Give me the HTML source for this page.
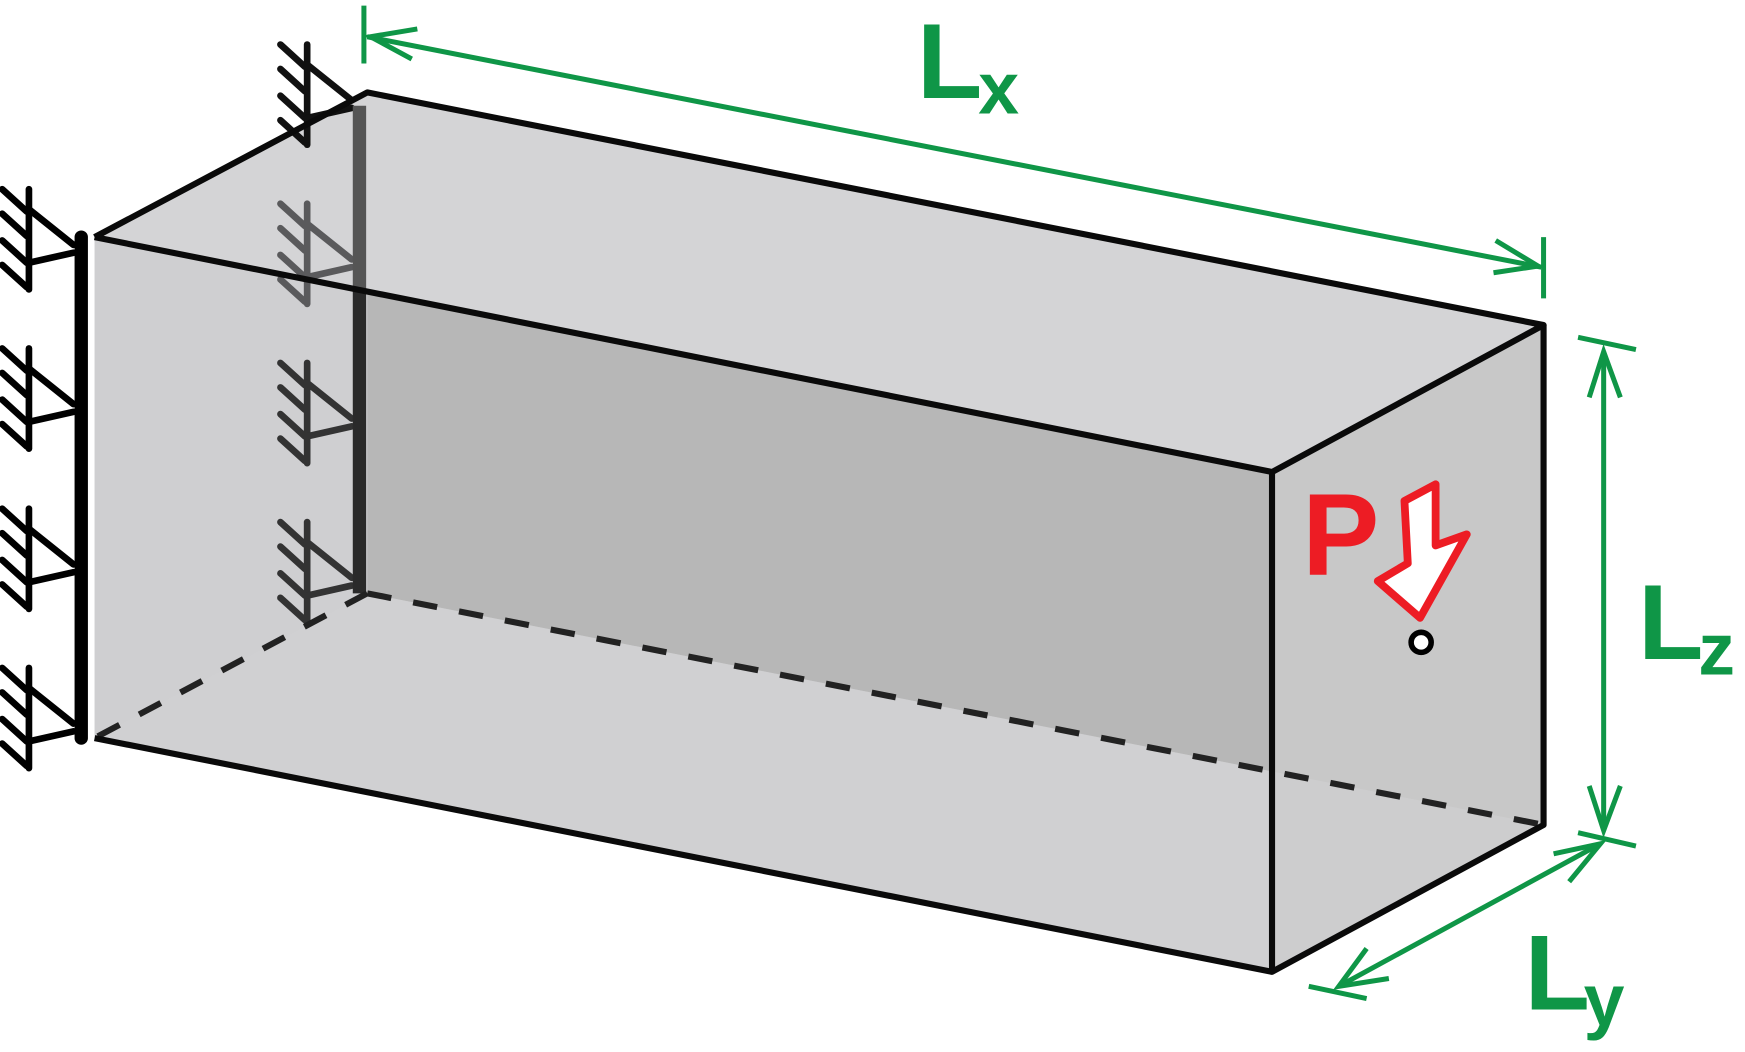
<!DOCTYPE html>
<html><head><meta charset="utf-8"><style>
html,body{margin:0;padding:0;background:#fff;}
svg{display:block;}
text{font-family:"Liberation Sans",sans-serif;font-weight:bold;}
</style></head><body>
<svg width="1745" height="1052" viewBox="0 0 1568 945" preserveAspectRatio="none" xmlns="http://www.w3.org/2000/svg">
<defs>
<g id="sup" fill="none" stroke-linecap="round" stroke-width="6">
<line x1="26" y1="0" x2="26" y2="90"/>
<line x1="2" y1="0" x2="24" y2="20"/>
<line x1="2" y1="22" x2="24" y2="42"/>
<line x1="2" y1="46" x2="24" y2="66"/>
<line x1="2" y1="68" x2="24" y2="88"/>
<line x1="26" y1="18" x2="66" y2="50"/>
<line x1="26" y1="66" x2="66" y2="57"/>
</g>
</defs>
<polygon points="85,213 330,83 330,533 85,663" fill="#dcdcde"/>
<polygon points="85,213 330,83 1387,292 1143,424" fill="#d4d4d6"/>
<polygon points="85,213 1143,424 1143,873 85,663" fill="#cfcfd1"/>
<polygon points="330,262 1143,424 1143,693 330,533" fill="#b7b7b7"/>
<polygon points="1143,424 1387,292 1387,741 1143,873" fill="#c8c8c8"/>
<polygon points="85,663 330,533 1387,741 1143,873" fill="#d0d0d2" opacity="0.6"/>
<g stroke="#111"><use href="#sup" x="250" y="40"/></g>
<g stroke="#5a5a5c"><use href="#sup" x="250" y="183"/></g>
<g stroke="#333"><use href="#sup" x="250" y="326"/></g>
<g stroke="#333"><use href="#sup" x="250" y="469"/></g>
<line x1="323" y1="95" x2="323" y2="260" stroke="#555" stroke-width="12"/>
<line x1="323" y1="260" x2="323" y2="533" stroke="#2a2a2a" stroke-width="12"/>
<g stroke="#222" stroke-width="5.5" stroke-dasharray="22,20" fill="none">
<line x1="330" y1="533" x2="85" y2="663"/>
<line x1="330" y1="533" x2="1387" y2="741"/>
</g>
<g stroke="#0a0a0a" stroke-width="5.5" fill="none" stroke-linejoin="round">
<polyline points="85,213 330,83 1387,292 1143,424 85,213"/>
<line x1="1143" y1="424" x2="1143" y2="873"/>
<polyline points="1387,292 1387,741 1143,873 85,663"/>
</g>
<line x1="73" y1="213" x2="73" y2="663" stroke="#000" stroke-width="12" stroke-linecap="round"/>
<g stroke="#000"><use href="#sup" x="0" y="170"/><use href="#sup" x="0" y="313"/><use href="#sup" x="0" y="457"/><use href="#sup" x="0" y="600"/></g>
<g stroke="#0f9647" stroke-width="4.5" fill="none">
<line x1="330" y1="33" x2="1385" y2="240"/>
<line x1="327" y1="5" x2="327" y2="57"/>
<line x1="1387" y1="213" x2="1387" y2="268"/>
<polyline points="375,26 333,33 370,53"/>
<polyline points="1344,216 1382,239 1342,245"/>
<line x1="1441" y1="316" x2="1441" y2="746"/>
<line x1="1418" y1="303" x2="1470" y2="314"/>
<line x1="1418" y1="748" x2="1470" y2="760"/>
<polyline points="1428,357 1441,316 1456,357"/>
<polyline points="1428,706 1441,746 1456,706"/>
<line x1="1438" y1="758" x2="1203" y2="886"/>
<line x1="1176" y1="886" x2="1228" y2="897"/>
<polyline points="1396,767 1438,758 1410,792"/>
<polyline points="1228,852 1203,886 1248,879"/>
</g>
<g fill="#0f9647">
<text x="824" y="88" font-size="96">L</text><text x="879" y="102" font-size="66">x</text>
<text x="1472" y="592" font-size="96">L</text><text x="1526" y="606" font-size="66">z</text>
<text x="1370" y="907" font-size="96">L</text><text x="1423" y="921" font-size="66">y</text>
</g>
<text x="1170" y="516" font-size="104" fill="#ed1c24">P</text>
<polygon points="1262,450 1290,435 1290,490 1318,480 1276,555 1238,522 1265,506" fill="#fff" stroke="#ed1c24" stroke-width="7" stroke-linejoin="round"/>
<circle cx="1277" cy="577" r="9" fill="#fff" stroke="#000" stroke-width="5"/>
</svg>
</body></html>
